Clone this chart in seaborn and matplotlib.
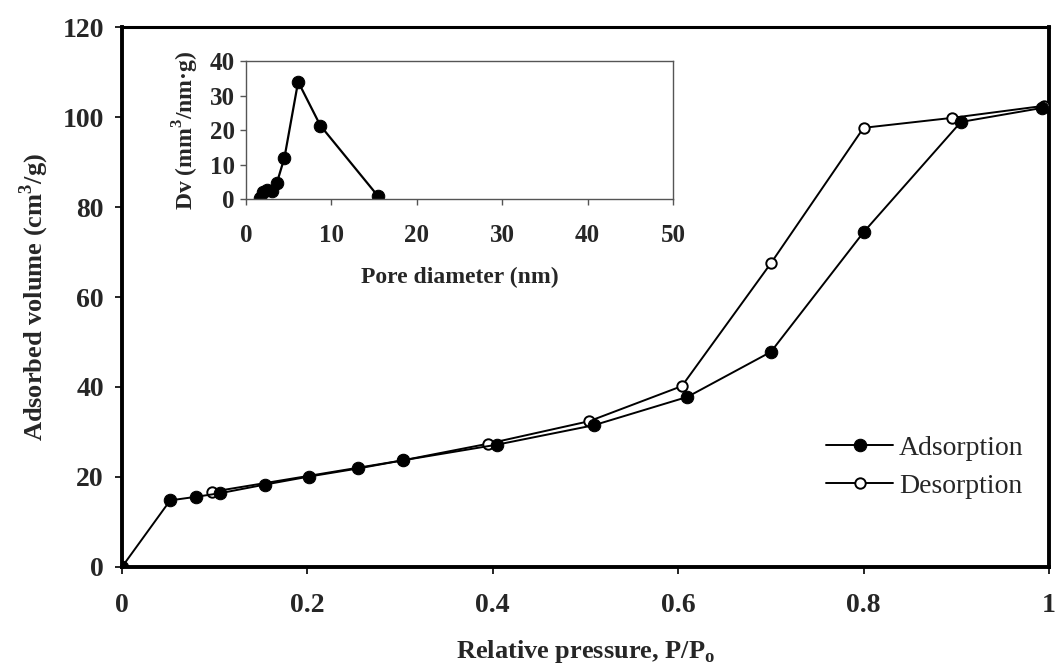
import matplotlib
matplotlib.use("Agg")
import matplotlib.pyplot as plt
import seaborn as sns

# ── data ──
ads_p = [0.0, 0.052, 0.08, 0.106, 0.154, 0.202, 0.255, 0.303, 0.405, 0.509, 0.61, 0.70, 0.80, 0.905, 0.992]
ads_v = [0.0, 14.8, 15.6, 16.4, 18.3, 20.1, 21.9, 23.7, 27.2, 31.5, 37.8, 47.8, 74.4, 98.9, 102.0]
des_p = [0.995, 0.895, 0.80, 0.70, 0.604, 0.504, 0.395, 0.303, 0.097]
des_v = [102.5, 99.8, 97.6, 67.5, 40.2, 32.4, 27.4, 23.7, 16.7]

pore_d = [1.6, 2.0, 2.5, 3.0, 3.6, 4.5, 6.1, 8.7, 15.4]
pore_dv = [0.3, 2.0, 2.6, 2.2, 4.6, 12.0, 34.0, 21.3, 1.0]

main_xticks = [0, 0.2, 0.4, 0.6, 0.8, 1.0]
main_xlabels = ["0", "0.2", "0.4", "0.6", "0.8", "1"]
main_yticks = [0, 20, 40, 60, 80, 100, 120]
inset_xticks = [0, 10, 20, 30, 40, 50]
inset_yticks = [0, 10, 20, 30, 40]

sns.set_theme(style="white")
plt.rcParams["font.family"] = ["Liberation Serif", "DejaVu Serif"]
plt.rcParams["mathtext.fontset"] = "custom"
plt.rcParams["mathtext.rm"] = "Liberation Serif"
plt.rcParams["mathtext.bf"] = "Liberation Serif:bold"

fig = plt.figure(figsize=(10.55, 6.69), dpi=100)
ax = fig.add_axes([0.1156, 0.1525, 0.8787, 0.8071])

sns.lineplot(x=ads_p, y=ads_v, ax=ax, color="black", lw=1.4, marker="o", markersize=9,
             markerfacecolor="black", markeredgecolor="black", sort=False, estimator=None,
             label="Adsorption", zorder=4)
sns.lineplot(x=des_p, y=des_v, ax=ax, color="black", lw=1.4, marker="o", markersize=7.5,
             markerfacecolor="white", markeredgecolor="black", markeredgewidth=1.4,
             sort=False, estimator=None, label="Desorption", zorder=3)

ax.set_xlim(0, 1); ax.set_ylim(0, 120)
ax.set_xticks(main_xticks); ax.set_xticklabels(main_xlabels)
ax.set_yticks(main_yticks)
for s in ax.spines.values():
    s.set_color("black"); s.set_linewidth(2.8)
ax.spines["top"].set_linewidth(2.2)
ax.tick_params(axis="both", direction="out", length=5, width=1.2, color="black",
               labelsize=20, bottom=True, left=True)
ax.tick_params(axis="x", pad=14)
ax.tick_params(axis="y", pad=8)
for t in ax.get_xticklabels() + ax.get_yticklabels():
    t.set_fontweight("bold")
ax.set_xlabel("Relative pressure, P/P$_\\mathbf{o}$", fontsize=19, fontweight="bold", labelpad=14)
ax.set_ylabel("Adsorbed volume (cm$^\\mathbf{3}$/g)", fontsize=19, fontweight="bold", labelpad=8)
ax.legend(loc="center left", bbox_to_anchor=(0.745, 0.185), frameon=False, fontsize=20,
          handlelength=2.4, handletextpad=0.2, labelspacing=0.45, borderpad=0)

# inset: pore size distribution
ins = fig.add_axes([0.2332, 0.7025, 0.4048, 0.2063])
sns.lineplot(x=pore_d, y=pore_dv, ax=ins, color="black", lw=1.6, marker="o", markersize=9,
             markerfacecolor="black", markeredgecolor="black", sort=False, estimator=None)
ins.set_xlim(0, 50); ins.set_ylim(0, 40)
ins.set_xticks(inset_xticks); ins.set_yticks(inset_yticks)
for s in ins.spines.values():
    s.set_color("#555555"); s.set_linewidth(1.0)
ins.tick_params(axis="both", direction="out", length=4, width=1.0, color="#555555",
                labelsize=18, bottom=True, left=True)
ins.tick_params(axis="x", pad=14)
ins.tick_params(axis="y", pad=4)
for t in ins.get_xticklabels() + ins.get_yticklabels():
    t.set_fontweight("bold")
ins.set_xlabel("Pore diameter (nm)", fontsize=17, fontweight="bold", labelpad=14)
ins.set_ylabel("Dv (mm$^\\mathbf{3}$/nm·g)", fontsize=17, fontweight="bold", labelpad=6)

fig.savefig("out.png", dpi=100)
